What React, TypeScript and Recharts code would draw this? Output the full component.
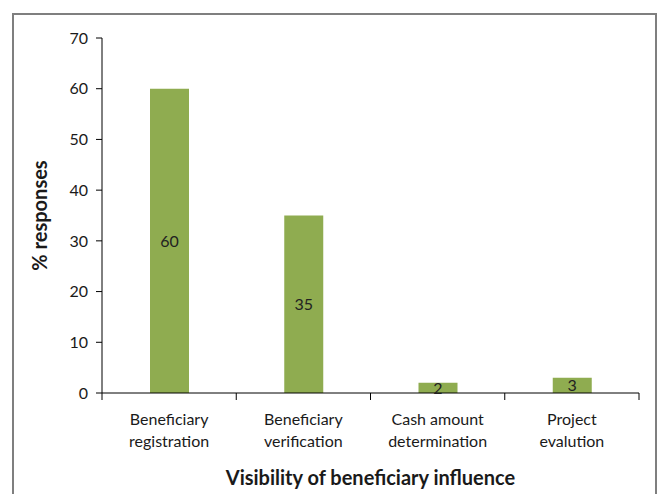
import React from 'react';
import { BarChart, Bar, XAxis, YAxis, LabelList } from 'recharts';

const categories = [
  ['Beneficiary', 'registration'],
  ['Beneficiary', 'verification'],
  ['Cash amount', 'determination'],
  ['Project', 'evalution'],
];
const responses = [60, 35, 2, 3];
const yTicks = [0, 10, 20, 30, 40, 50, 60, 70];

const data = categories.map((lines, i) => ({
  name: lines.join(' '),
  lines,
  value: responses[i],
}));

const W = 657;
const H = 494;
const margin = { top: 38, right: 18, bottom: 0, left: 0 };
const yAxisWidth = 102;
const band = (W - margin.left - margin.right - yAxisWidth) / categories.length;
const font = 'Lato, "Open Sans", sans-serif';

// x tick marks sit on the category boundaries, not the centres
const CategoryTick = (props: any) => {
  const { x, y, index, payload } = props;
  const item = data.find((d) => d.name === payload.value);
  const lines = item ? item.lines : [payload.value];
  const left = x - band / 2;
  const axisY = y - 8;
  return (
    <g>
      <line x1={left} x2={left} y1={axisY} y2={axisY + 7} stroke="#000" />
      {index === categories.length - 1 && (
        <line x1={left + band} x2={left + band} y1={axisY} y2={axisY + 7} stroke="#000" />
      )}
      {lines.map((t: string, i: number) => (
        <text
          key={i}
          x={x}
          y={y + 24 + i * 22}
          textAnchor="middle"
          fontSize={16}
          fill="#1a1a1a"
          fontFamily={font}
        >
          {t}
        </text>
      ))}
    </g>
  );
};

export default function App() {
  return (
    <div style={{ position: 'absolute', left: 0, top: 0, width: W, height: H }}>
      <div
        style={{
          position: 'absolute',
          left: 12,
          top: 13,
          width: 641,
          height: 500,
          border: '2px solid #7f7f7f',
          borderBottom: 'none',
        }}
      />
      <div style={{ position: 'absolute', left: 0, top: 0 }}>
        <BarChart width={W} height={H} data={data} margin={margin}>
          <YAxis
            width={yAxisWidth}
            domain={[0, 70]}
            ticks={yTicks}
            interval={0}
            tickSize={6}
            tickMargin={8}
            axisLine={{ stroke: '#000' }}
            tickLine={{ stroke: '#000' }}
            tick={{ fontSize: 16, fill: '#1a1a1a', fontFamily: font }}
            label={{
              value: '% responses',
              angle: -90,
              position: 'insideLeft',
              offset: 40,
              style: { fontSize: 20, fontWeight: 700, fill: '#1a1a1a', fontFamily: font, textAnchor: 'middle' },
            }}
          />
          <XAxis
            dataKey="name"
            height={101}
            interval={0}
            tickLine={false}
            axisLine={{ stroke: '#000' }}
            tick={<CategoryTick />}
            label={{
              value: 'Visibility of beneficiary influence',
              position: 'insideBottom',
              offset: 9,
              style: { fontSize: 20, fontWeight: 700, fill: '#1a1a1a', fontFamily: font },
            }}
          />
          <Bar dataKey="value" fill="#8fac50" barSize={39} isAnimationActive={false}>
            <LabelList
              dataKey="value"
              position="center"
              style={{ fontSize: 16, fill: '#222', fontFamily: font }}
            />
          </Bar>
        </BarChart>
      </div>
    </div>
  );
}
